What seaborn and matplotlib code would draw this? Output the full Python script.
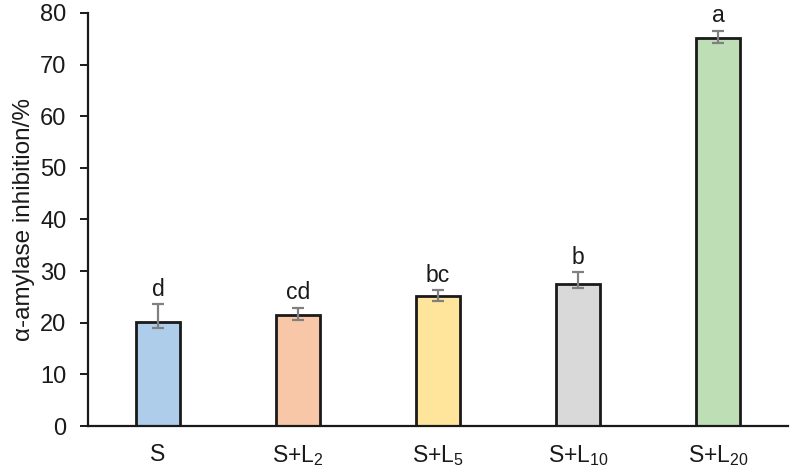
import pandas as pd
import numpy as np
import matplotlib
matplotlib.use('Agg')
import matplotlib.pyplot as plt
import seaborn as sns

# data
groups = ['S', 'S+L2', 'S+L5', 'S+L10', 'S+L20']
tick_labels = ['S', r'S+L$\mathregular{_{2}}$', r'S+L$\mathregular{_{5}}$',
               r'S+L$\mathregular{_{10}}$', r'S+L$\mathregular{_{20}}$']
inhibition = [20.1, 21.5, 25.2, 27.6, 75.1]
err_low = [1.1, 1.0, 1.0, 0.9, 1.0]
err_high = [3.5, 1.4, 1.1, 2.2, 1.4]
letters = ['d', 'cd', 'bc', 'b', 'a']
colors = ['#ADCDEA', '#F8C7A7', '#FEE59B', '#D9D9D9', '#BEDEB5']

df = pd.DataFrame({'group': groups, 'value': inhibition})

sns.set_style('ticks')
plt.rcParams['font.family'] = ['Liberation Sans', 'DejaVu Sans']
plt.rcParams['mathtext.fontset'] = 'custom'
plt.rcParams['mathtext.rm'] = 'Liberation Sans'

fig = plt.figure(figsize=(7.9, 4.69), dpi=100)
ax = fig.add_axes([88 / 790, 1 - 426 / 469, 700 / 790, 413 / 469])

sns.barplot(data=df, x='group', y='value', hue='group', palette=colors, legend=False,
            saturation=1, width=0.315, edgecolor='#1a1a1a', linewidth=2, ax=ax)

x = np.arange(len(groups))
ax.errorbar(x, inhibition, yerr=[err_low, err_high], fmt='none', ecolor='#808080',
            elinewidth=1.6, capsize=4, capthick=1.6, zorder=5)

for xi, v, eh, lab in zip(x, inhibition, err_high, letters):
    ax.text(xi, v + eh + 0.7, lab, ha='center', va='bottom', fontsize=16.5, color='#1a1a1a')

ax.set_xlim(-0.5, 4.5)
ax.set_ylim(0, 80)
ax.set_yticks(np.arange(0, 81, 10))
ax.set_xticks(x)
ax.set_xticklabels(tick_labels)
ax.set_xlabel('')
ax.set_ylabel('α-amylase inhibition/%', fontsize=17.5, color='#1a1a1a', labelpad=4)
ax.tick_params(axis='y', labelsize=17, length=5.5, width=1.4, colors='#1a1a1a', pad=10)
ax.tick_params(axis='x', labelsize=16.5, length=0, colors='#1a1a1a', pad=12)
sns.despine(ax=ax)
for s in ['left', 'bottom']:
    ax.spines[s].set_linewidth(1.6)
    ax.spines[s].set_color('#1a1a1a')

fig.savefig('out.png', dpi=100)
